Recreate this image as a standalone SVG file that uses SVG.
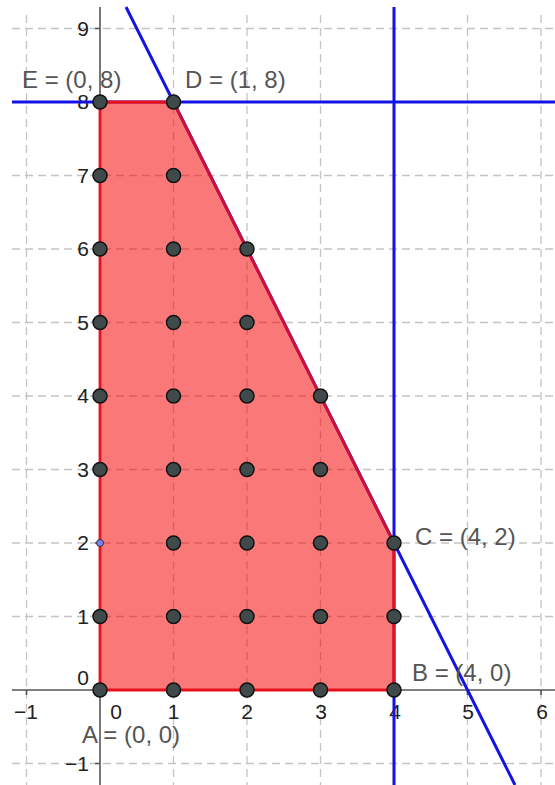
<svg xmlns="http://www.w3.org/2000/svg" width="555" height="785" viewBox="0 0 555 785">
<style>
.grid{stroke:#c4c4c4;stroke-width:1.3;stroke-dasharray:8 5;fill:none}
.axis{stroke:#555;stroke-width:1.6;fill:none}
.tick{font-family:"Liberation Sans",Arial,sans-serif;font-size:21px;fill:#222}
.lbl{font-family:"Liberation Sans",Arial,sans-serif;font-size:24px;fill:#555}
.blue{stroke:#1212e6;stroke-width:3;fill:none}
.pt{fill:#404a4a;stroke:#111;stroke-width:1.5}
</style>
<rect width="555" height="785" fill="#fff"/>
<g id="grid">
<line class="grid" x1="26.5" y1="15" x2="26.5" y2="785"/>
<line class="grid" x1="173.5" y1="15" x2="173.5" y2="785"/>
<line class="grid" x1="247" y1="15" x2="247" y2="785"/>
<line class="grid" x1="320.5" y1="15" x2="320.5" y2="785"/>
<line class="grid" x1="394" y1="15" x2="394" y2="785"/>
<line class="grid" x1="467.5" y1="15" x2="467.5" y2="785"/>
<line class="grid" x1="541" y1="15" x2="541" y2="785"/>
<line class="grid" x1="12" y1="28.5" x2="555" y2="28.5"/>
<line class="grid" x1="12" y1="102" x2="555" y2="102"/>
<line class="grid" x1="12" y1="175.5" x2="555" y2="175.5"/>
<line class="grid" x1="12" y1="249" x2="555" y2="249"/>
<line class="grid" x1="12" y1="322.5" x2="555" y2="322.5"/>
<line class="grid" x1="12" y1="396" x2="555" y2="396"/>
<line class="grid" x1="12" y1="469.5" x2="555" y2="469.5"/>
<line class="grid" x1="12" y1="543" x2="555" y2="543"/>
<line class="grid" x1="12" y1="616.5" x2="555" y2="616.5"/>
<line class="grid" x1="12" y1="763.5" x2="555" y2="763.5"/>
</g>
<g id="axes">
<line class="axis" x1="100" y1="7" x2="100" y2="785"/>
<line class="axis" x1="12" y1="690" x2="555" y2="690"/>
<path class="axis" d="M95,28.5H100M95,102H100M95,175.5H100M95,249H100M95,322.5H100M95,396H100M95,469.5H100M95,543H100M95,616.5H100M95,763.5H100M26.5,690V695M173.5,690V695M247,690V695M320.5,690V695M394,690V695M467.5,690V695M541,690V695"/>
<g class="tick" text-anchor="end">
<text x="89" y="36">9</text>
<text x="89" y="109">8</text>
<text x="89" y="183">7</text>
<text x="89" y="256">6</text>
<text x="89" y="330">5</text>
<text x="89" y="403">4</text>
<text x="89" y="477">3</text>
<text x="89" y="550">2</text>
<text x="89" y="624">1</text>
<text x="89" y="685">0</text>
<text x="89" y="771">−1</text>
</g>
<g class="tick" text-anchor="middle">
<text x="26" y="719">−1</text>
<text x="116" y="719">0</text>
<text x="173.5" y="719">1</text>
<text x="247" y="719">2</text>
<text x="321" y="719">3</text>
<text x="395" y="719">4</text>
<text x="468" y="719">5</text>
<text x="542" y="719">6</text>
</g>
</g>
<g id="lines">
<line class="blue" x1="12" y1="102" x2="555" y2="102"/>
<line class="blue" x1="394" y1="7" x2="394" y2="785"/>
<line class="blue" x1="126" y1="7" x2="515" y2="785"/>
</g>
<g id="region">
<polygon points="100,690 394,690 394,543 173.5,102 100,102" fill="#f50000" fill-opacity="0.53" stroke="none"/>
<polyline points="173.5,102 100,102 100,690 394,690 394,543" fill="none" stroke="#e8101c" stroke-width="2.8"/>
<line x1="394" y1="543" x2="173.5" y2="102" stroke="#cc1038" stroke-width="2.8"/>
</g>
<g id="points">
<circle class="pt" cx="100" cy="690" r="7"/>
<circle class="pt" cx="100" cy="616.5" r="7"/>
<circle cx="100" cy="543" r="3.5" fill="#8080ff" stroke="#333" stroke-width="1"/>
<circle class="pt" cx="100" cy="469.5" r="7"/>
<circle class="pt" cx="100" cy="396" r="7"/>
<circle class="pt" cx="100" cy="322.5" r="7"/>
<circle class="pt" cx="100" cy="249" r="7"/>
<circle class="pt" cx="100" cy="175.5" r="7"/>
<circle class="pt" cx="100" cy="102" r="7"/>
<circle class="pt" cx="173.5" cy="690" r="7"/>
<circle class="pt" cx="173.5" cy="616.5" r="7"/>
<circle class="pt" cx="173.5" cy="543" r="7"/>
<circle class="pt" cx="173.5" cy="469.5" r="7"/>
<circle class="pt" cx="173.5" cy="396" r="7"/>
<circle class="pt" cx="173.5" cy="322.5" r="7"/>
<circle class="pt" cx="173.5" cy="249" r="7"/>
<circle class="pt" cx="173.5" cy="175.5" r="7"/>
<circle class="pt" cx="173.5" cy="102" r="7"/>
<circle class="pt" cx="247" cy="690" r="7"/>
<circle class="pt" cx="247" cy="616.5" r="7"/>
<circle class="pt" cx="247" cy="543" r="7"/>
<circle class="pt" cx="247" cy="469.5" r="7"/>
<circle class="pt" cx="247" cy="396" r="7"/>
<circle class="pt" cx="247" cy="322.5" r="7"/>
<circle class="pt" cx="247" cy="249" r="7"/>
<circle class="pt" cx="320.5" cy="690" r="7"/>
<circle class="pt" cx="320.5" cy="616.5" r="7"/>
<circle class="pt" cx="320.5" cy="543" r="7"/>
<circle class="pt" cx="320.5" cy="469.5" r="7"/>
<circle class="pt" cx="320.5" cy="396" r="7"/>
<circle class="pt" cx="394" cy="690" r="7"/>
<circle class="pt" cx="394" cy="616.5" r="7"/>
<circle class="pt" cx="394" cy="543" r="7"/>
</g>
<g id="labels" class="lbl">
<text x="22" y="88">E = (0, 8)</text>
<text x="185" y="88">D = (1, 8)</text>
<text x="82" y="743">A = (0, 0)</text>
<text x="412" y="681">B = (4, 0)</text>
<text x="415" y="545">C = (4, 2)</text>
</g>
</svg>
